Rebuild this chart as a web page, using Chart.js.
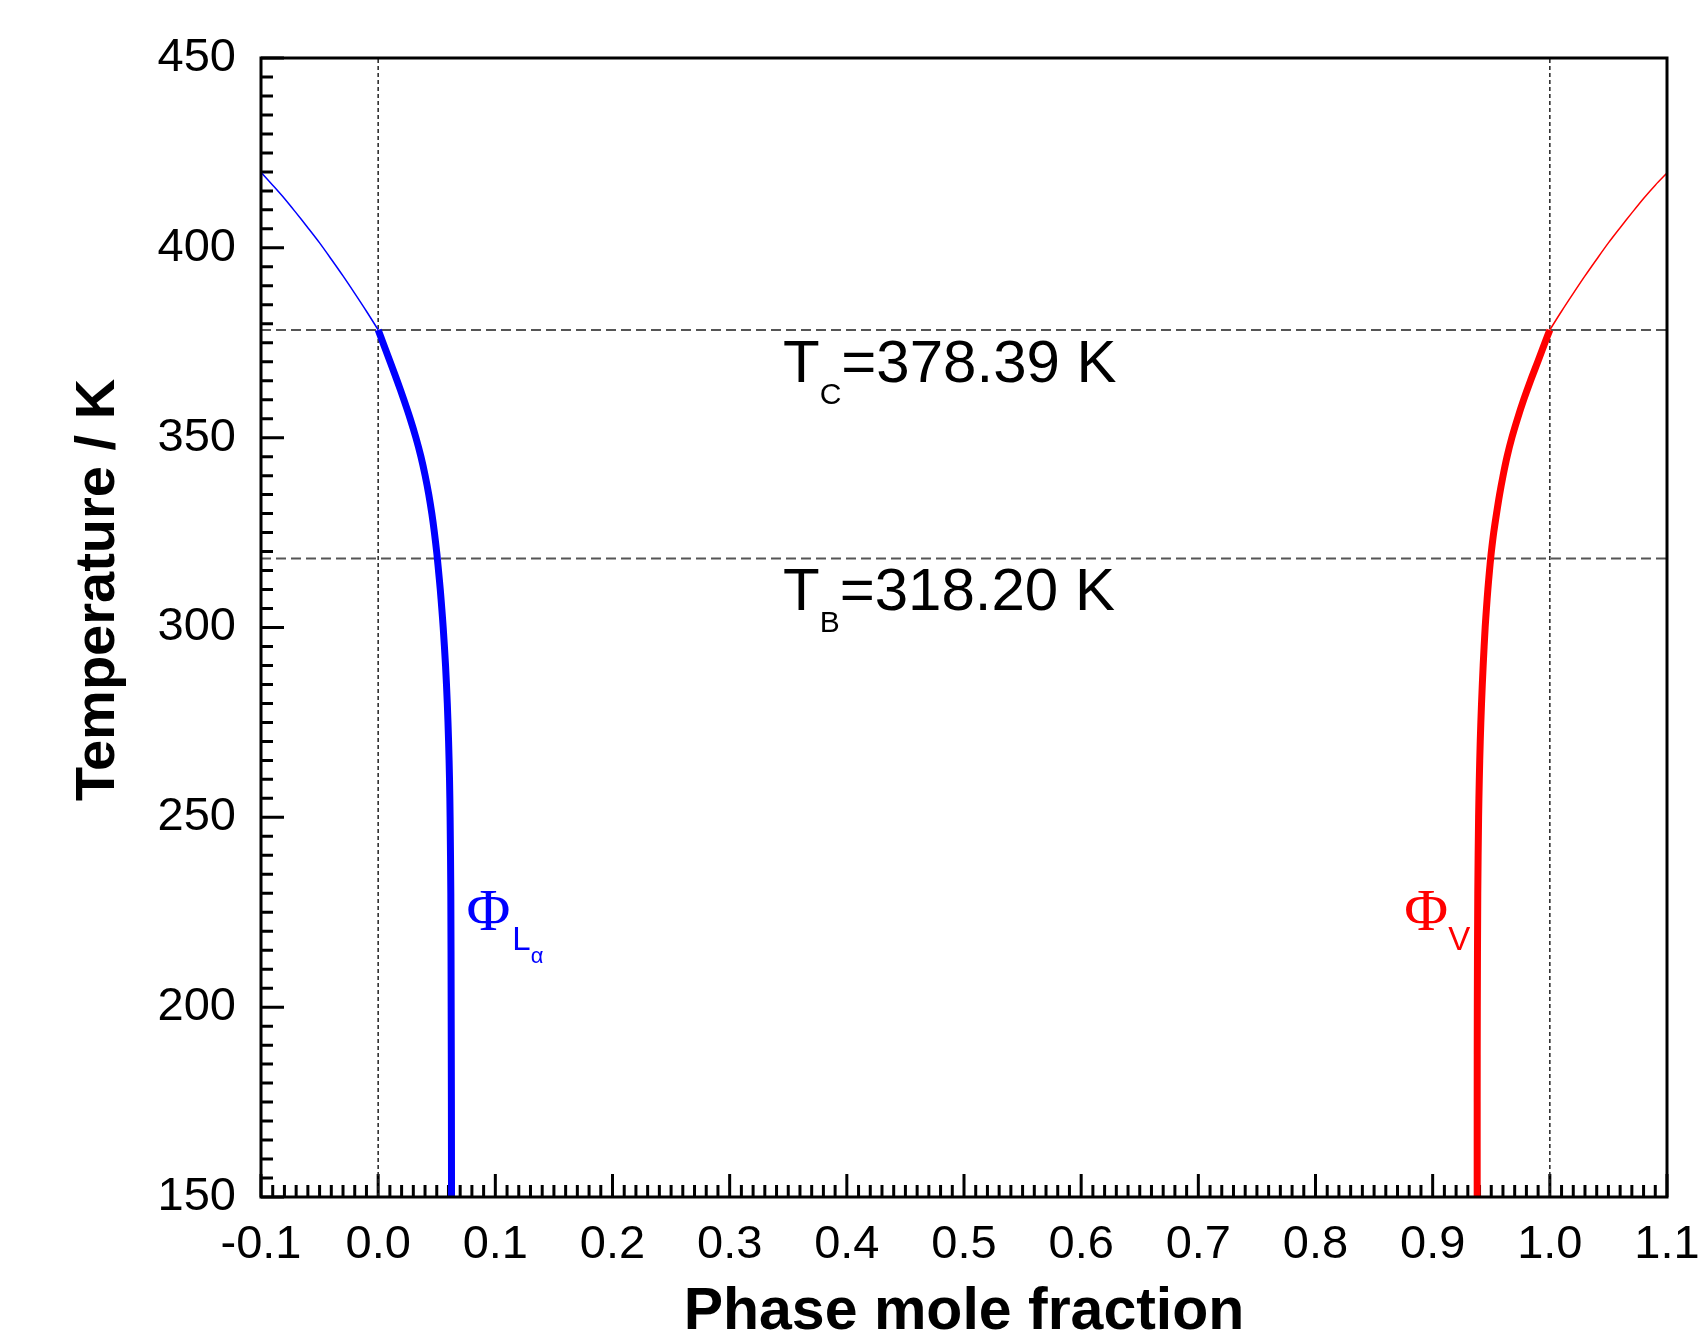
<!DOCTYPE html>
<html>
<head>
<meta charset="utf-8">
<title>Phase mole fraction vs temperature</title>
<script src="https://cdn.jsdelivr.net/npm/chart.js@4.4.1/dist/chart.umd.min.js"></script>
<style>
  html, body { margin: 0; padding: 0; background: #fff; }
  #wrap { width: 1702px; height: 1339px; }
</style>
</head>
<body>
<div id="wrap"><canvas id="phaseChart" width="1702" height="1339"></canvas></div>
<script>
// axis ticks
const tempTicks = [150, 200, 250, 300, 350, 400, 450];
const fracTicks = [-0.1, 0.0, 0.1, 0.2, 0.3, 0.4, 0.5, 0.6, 0.7, 0.8, 0.9, 1.0, 1.1];

// characteristic temperatures
const tempC = 378.39;
const tempB = 318.20;

// L-alpha phase, stable branch (below Tc)
const lAlphaT = [378.39, 375, 370, 365, 360, 355, 350, 345, 340, 335, 330, 325, 320, 318.2, 315, 310, 305, 300, 290, 280, 270, 260, 250, 230, 200, 175, 150];
const lAlphaX = [0.0000, 0.0041, 0.0102, 0.0162, 0.0219, 0.0273, 0.0322, 0.0365, 0.0401, 0.0432, 0.0458, 0.0480, 0.0499, 0.0505, 0.0515, 0.0530, 0.0543, 0.0555, 0.0575, 0.0590, 0.0601, 0.0609, 0.0614, 0.0620, 0.0623, 0.0625, 0.0626];

// L-alpha phase, above Tc
const lAlphaHiX = [-0.1, -0.09, -0.08, -0.07, -0.06, -0.05, -0.04, -0.03, -0.02, -0.01, 0.0];
const lAlphaHiT = [419.9, 416.5, 413.0, 409.2, 405.3, 401.3, 397.0, 392.6, 388.0, 383.3, 378.39];

// vapour phase, stable branch (below Tc)
const vapT = [378.39, 375, 370, 365, 360, 355, 350, 345, 340, 335, 330, 325, 320, 318.2, 315, 310, 305, 300, 290, 280, 270, 260, 250, 230, 200, 175, 150];
const vapX = [1.0000, 0.9958, 0.9897, 0.9835, 0.9777, 0.9724, 0.9676, 0.9635, 0.9601, 0.9571, 0.9545, 0.9521, 0.9501, 0.9495, 0.9485, 0.9471, 0.9459, 0.9448, 0.9431, 0.9417, 0.9406, 0.9398, 0.9392, 0.9385, 0.9381, 0.9380, 0.9380];

// vapour phase, above Tc
const vapHiX = [1.0, 1.01, 1.02, 1.03, 1.04, 1.05, 1.06, 1.07, 1.08, 1.09, 1.1];
const vapHiT = [378.39, 383.3, 388.0, 392.6, 397.0, 401.3, 405.3, 409.2, 413.0, 416.5, 419.7];

const SANS = '"Liberation Sans", Arial, Helvetica, sans-serif';
const SERIF = '"Liberation Serif", "Times New Roman", serif';

function pts(xs, ys) {
  return xs.map((v, i) => ({ x: v, y: ys[i] }));
}

function curve(xs, ys, color, width) {
  return {
    data: pts(xs, ys),
    showLine: true,
    borderColor: color,
    borderWidth: width,
    pointRadius: 0,
    tension: 0.3,
    fill: false
  };
}

function refLine(data, color, width, dash) {
  return {
    data: data,
    showLine: true,
    borderColor: color,
    borderWidth: width,
    borderDash: dash,
    pointRadius: 0,
    tension: 0,
    fill: false
  };
}

// frame and inward ticks (major + minor) on the left and bottom axes
const frameTicks = {
  id: 'frameTicks',
  beforeDatasetsDraw(chart) {
    const { ctx, chartArea: a, scales: { x, y } } = chart;
    ctx.save();
    ctx.strokeStyle = '#000';
    ctx.lineWidth = 3;
    ctx.beginPath();
    const ny = Math.round((y.max - y.min) / 5);
    for (let i = 0; i <= ny; i++) {
      const py = y.getPixelForValue(y.min + i * 5);
      const len = (i % 10 === 0) ? 23 : 12;
      ctx.moveTo(a.left, py);
      ctx.lineTo(a.left + len, py);
    }
    const nx = Math.round((x.max - x.min) / 0.01);
    for (let i = 0; i <= nx; i++) {
      const px = x.getPixelForValue(x.min + i * 0.01);
      const len = (i % 10 === 0) ? 23 : 12;
      ctx.moveTo(px, a.bottom);
      ctx.lineTo(px, a.bottom - len);
    }
    ctx.stroke();
    ctx.restore();
  },
  afterDatasetsDraw(chart) {
    const { ctx, chartArea: a } = chart;
    ctx.save();
    ctx.strokeStyle = '#000';
    ctx.lineWidth = 3;
    ctx.strokeRect(a.left, a.top, a.right - a.left, a.bottom - a.top);
    ctx.restore();
  }
};

// text with a lowered subscript
function subText(ctx, x, base, main, sub, rest, size, subSize, subDrop) {
  ctx.font = size + 'px ' + SANS;
  ctx.fillText(main, x, base);
  let cx = x + ctx.measureText(main).width;
  ctx.font = subSize + 'px ' + SANS;
  ctx.fillText(sub, cx, base + subDrop);
  cx += ctx.measureText(sub).width;
  ctx.font = size + 'px ' + SANS;
  ctx.fillText(rest, cx, base);
}

const labels = {
  id: 'labels',
  afterDraw(chart) {
    const { ctx, scales: { x, y } } = chart;
    ctx.save();
    ctx.textAlign = 'left';
    ctx.textBaseline = 'alphabetic';
    ctx.fillStyle = '#000';

    subText(ctx, 783, y.getPixelForValue(tempC) + 52.5, 'T', 'C', '=' + tempC.toFixed(2) + ' K', 60, 30, 22);
    subText(ctx, 783, y.getPixelForValue(tempB) + 52, 'T', 'B', '=' + tempB.toFixed(2) + ' K', 60, 30, 22);

    // phase labels beside the curves
    const base = y.getPixelForValue(220.3);
    ctx.fillStyle = '#0000ff';
    let px = x.getPixelForValue(lAlphaX[lAlphaX.length - 1]) + 15;
    ctx.font = '60px ' + SERIF;
    ctx.fillText('\u03A6', px, base);
    px += ctx.measureText('\u03A6').width + 2;
    ctx.font = '33px ' + SANS;
    ctx.fillText('L', px, base + 20);
    px += ctx.measureText('L').width;
    ctx.font = '22px ' + SANS;
    ctx.fillText('\u03B1', px, base + 33);

    ctx.fillStyle = '#ff0000';
    ctx.font = '60px ' + SERIF;
    const phiW = ctx.measureText('\u03A6').width;
    ctx.font = '33px ' + SANS;
    const vW = ctx.measureText('V').width;
    const rx = x.getPixelForValue(vapX[vapX.length - 1]) - 7 - vW - phiW;
    ctx.font = '60px ' + SERIF;
    ctx.fillText('\u03A6', rx, base);
    ctx.font = '33px ' + SANS;
    ctx.fillText('V', rx + phiW, base + 20);

    // temperature axis title
    ctx.fillStyle = '#000';
    ctx.translate(99, 590);
    ctx.rotate(-Math.PI / 2);
    ctx.textAlign = 'center';
    ctx.textBaseline = 'middle';
    ctx.font = 'bold 56px ' + SANS;
    ctx.fillText('Temperature / K', 0, 0);
    ctx.restore();
  }
};

new Chart(document.getElementById('phaseChart'), {
  type: 'scatter',
  data: {
    datasets: [
      curve(lAlphaX, lAlphaT, '#0000ff', 7),
      curve(vapX, vapT, '#ff0000', 7),
      curve(lAlphaHiX, lAlphaHiT, '#0000ff', 1.5),
      curve(vapHiX, vapHiT, '#ff0000', 1.5),
      refLine([{ x: 0, y: 150 }, { x: 0, y: 450 }], '#222', 1.5, [4, 3]),
      refLine([{ x: 1, y: 150 }, { x: 1, y: 450 }], '#222', 1.5, [4, 3]),
      refLine([{ x: -0.1, y: tempC }, { x: 1.1, y: tempC }], '#555', 2, [10, 5]),
      refLine([{ x: -0.1, y: tempB }, { x: 1.1, y: tempB }], '#555', 2, [10, 5])
    ]
  },
  options: {
    responsive: false,
    animation: false,
    devicePixelRatio: 1,
    layout: { padding: { left: 0, top: 58, right: 35, bottom: 0 } },
    plugins: {
      legend: { display: false },
      tooltip: { enabled: false }
    },
    scales: {
      x: {
        type: 'linear',
        min: -0.1,
        max: 1.1,
        afterBuildTicks: (scale) => { scale.ticks = fracTicks.map(v => ({ value: v })); },
        afterFit: (scale) => {
          scale.height = 142;
          scale.paddingLeft = 0;
          scale.paddingRight = 0;
        },
        grid: { display: false, drawTicks: false },
        border: { display: false },
        ticks: {
          padding: 20,
          color: '#000',
          maxRotation: 0,
          autoSkip: false,
          font: { family: SANS, size: 47 },
          callback: (v) => Number(v).toFixed(1)
        },
        title: {
          display: true,
          text: 'Phase mole fraction',
          color: '#000',
          padding: { top: 0, bottom: 0 },
          font: { family: SANS, size: 59, weight: 'bold', lineHeight: 0.9 }
        }
      },
      y: {
        type: 'linear',
        min: 150,
        max: 450,
        afterBuildTicks: (scale) => { scale.ticks = tempTicks.map(v => ({ value: v })); },
        afterFit: (scale) => { scale.width = 261; },
        grid: { display: false, drawTicks: false },
        border: { display: false },
        ticks: {
          padding: 25,
          color: '#000',
          autoSkip: false,
          font: { family: SANS, size: 47 }
        }
      }
    }
  },
  plugins: [frameTicks, labels]
});
</script>
</body>
</html>
